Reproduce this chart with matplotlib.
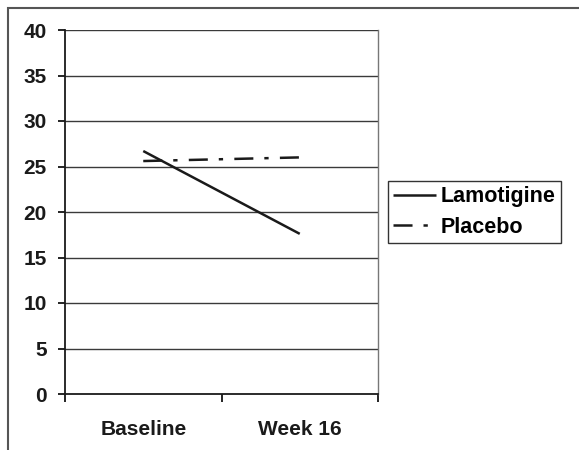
import matplotlib
matplotlib.use('Agg')
import matplotlib.pyplot as plt
from matplotlib.patches import Rectangle

plt.rcParams['font.family'] = ['Liberation Sans', 'DejaVu Sans']
plt.rcParams['lines.scale_dashes'] = False

categories = ['Baseline', 'Week 16']
lamotigine = [26.7, 17.6]
placebo = [25.6, 26.0]
yticks = [0, 5, 10, 15, 20, 25, 30, 35, 40]

fig = plt.figure(figsize=(5.79, 4.5), dpi=100)
ax = fig.add_axes([65/579, 1-394/450, (378-65)/579, (394-30)/450])

# outer frame, cut off at right and bottom like the reference
fig.patches.append(Rectangle((8/579, -0.1), 1.2, 1.1 - 8/450, transform=fig.transFigure,
                             fill=False, edgecolor='#555555', lw=1.5))

xpos = [0.5, 1.5]
ax.plot(xpos, lamotigine, color='#1a1a1a', lw=1.8, label='Lamotigine', solid_capstyle='butt')
ax.plot(xpos, placebo, color='#1a1a1a', lw=1.8, label='Placebo',
        dashes=[13.7, 7.9, 3.1, 8.1], dash_capstyle='butt')

ax.set_xlim(0, 2)
ax.set_ylim(0, 40)
ax.set_yticks(yticks)
for v in yticks[1:]:
    ax.axhline(v, color='#3a3a3a', lw=1.0, zorder=0)

ax.set_xticks([0, 1, 2])
ax.set_xticklabels([])
ax.set_xticks(xpos, minor=True)
ax.set_xticklabels(categories, minor=True)
ax.tick_params(axis='x', which='minor', length=0, pad=19, labelsize=15)
ax.tick_params(axis='x', which='major', length=6, width=1.2, direction='out')
ax.tick_params(axis='y', length=5, width=1.2, direction='out', pad=8, labelsize=15)
for lab in ax.get_xticklabels(minor=True) + ax.get_yticklabels():
    lab.set_fontweight('bold')
    lab.set_color('#1a1a1a')

ax.spines['left'].set_color('#1a1a1a')
ax.spines['left'].set_linewidth(1.3)
ax.spines['bottom'].set_color('#1a1a1a')
ax.spines['bottom'].set_linewidth(1.3)
ax.spines['top'].set_visible(False)
ax.spines['right'].set_color('#777777')
ax.spines['right'].set_linewidth(1.0)

leg = fig.legend(loc='center left', bbox_to_anchor=(388/579, 1-212/450), borderaxespad=0,
                 fancybox=False, edgecolor='#333333', framealpha=1,
                 prop={'weight': 'bold', 'size': 15.5}, handlelength=2.0, handletextpad=0.2,
                 borderpad=0.25, labelspacing=0.45)
leg.get_frame().set_linewidth(1.0)

fig.savefig('out.png', dpi=100)
